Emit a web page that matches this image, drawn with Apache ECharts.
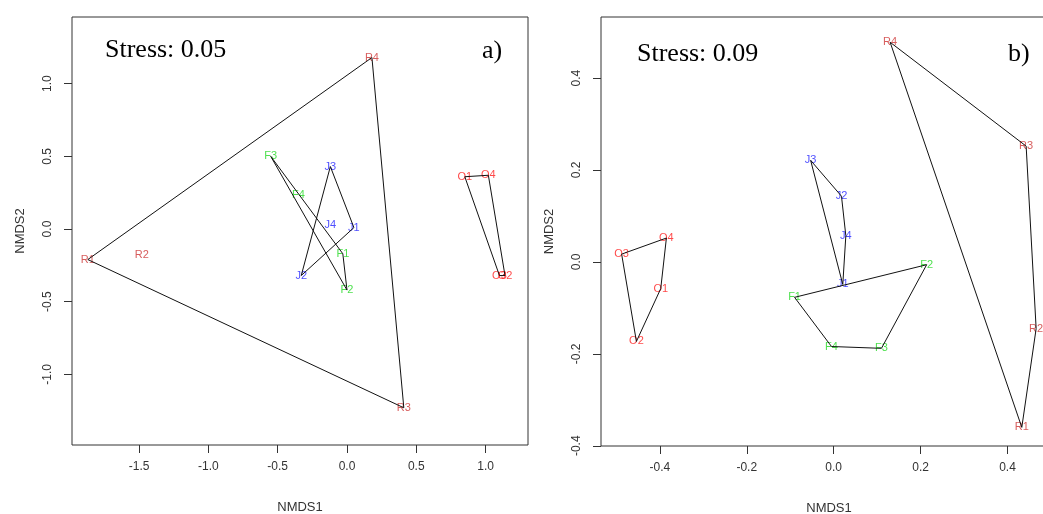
<!DOCTYPE html>
<html>
<head>
<meta charset="utf-8"/>
<style>
    html, body {
        margin: 0;
        height: 100%;
        background-color: #fff;
    }
    #main {
        width: 1043px;
        height: 514px;
    }
</style>
<script src="https://cdn.jsdelivr.net/npm/echarts@6.0.0/dist/echarts.min.js"></script>
</head>
<body>
<div id="main"></div>
<script type="text/javascript">
// panel a) site scores
var sitesA = ['F1', 'F2', 'F3', 'F4', 'J1', 'J2', 'J3', 'J4', 'O1', 'O2', 'O3', 'O4', 'R1', 'R2', 'R3', 'R4'];
var nmds1A = [-0.03, 0.00, -0.55, -0.35, 0.05, -0.33, -0.12, -0.12, 0.85, 1.14, 1.10, 1.02, -1.87, -1.48, 0.41, 0.18];
var nmds2A = [-0.17, -0.42, 0.50, 0.235, 0.01, -0.32, 0.43, 0.03, 0.36, -0.32, -0.32, 0.37, -0.21, -0.18, -1.23, 1.18];
var stressA = '0.05';

// panel b) site scores
var sitesB = ['F1', 'F2', 'F3', 'F4', 'J1', 'J2', 'J3', 'J4', 'O1', 'O2', 'O3', 'O4', 'R1', 'R2', 'R3', 'R4'];
var nmds1B = [-0.09, 0.214, 0.11, -0.005, 0.021, 0.018, -0.053, 0.028, -0.398, -0.454, -0.488, -0.385, 0.433, 0.466, 0.443, 0.13];
var nmds2B = [-0.077, -0.006, -0.188, -0.184, -0.049, 0.143, 0.221, 0.057, -0.058, -0.173, 0.017, 0.052, -0.36, -0.145, 0.252, 0.478];
var stressB = '0.09';

// tick labels
var ticksA1 = [-1.5, -1.0, -0.5, 0.0, 0.5, 1.0];
var ticksA2 = [-1.0, -0.5, 0.0, 0.5, 1.0];
var ticksB1 = [-0.4, -0.2, 0.0, 0.2, 0.4];
var ticksB2 = [-0.4, -0.2, 0.0, 0.2, 0.4];

var groups = ['F', 'J', 'O', 'R'];
var groupColors = {F: '#22d822', J: '#2222ff', O: '#ff1a1a', R: '#cd3333'};

var sans = '"Liberation Sans", Arial, sans-serif';
var serif = '"Liberation Serif", "Times New Roman", serif';

// convex hull (monotone chain), returned closed
function hull(pts) {
    var p = pts.slice().sort(function (a, b) { return a[0] - b[0] || a[1] - b[1]; });
    function cross(o, a, b) { return (a[0] - o[0]) * (b[1] - o[1]) - (a[1] - o[1]) * (b[0] - o[0]); }
    var lower = [], upper = [];
    for (var i = 0; i < p.length; i++) {
        while (lower.length >= 2 && cross(lower[lower.length - 2], lower[lower.length - 1], p[i]) <= 0) lower.pop();
        lower.push(p[i]);
    }
    for (var j = p.length - 1; j >= 0; j--) {
        while (upper.length >= 2 && cross(upper[upper.length - 2], upper[upper.length - 1], p[j]) <= 0) upper.pop();
        upper.push(p[j]);
    }
    upper.pop(); lower.pop();
    var h = lower.concat(upper);
    h.push(h[0]);
    return h;
}

function panelSeries(idx, sites, xs, ys) {
    var out = [];
    groups.forEach(function (g) {
        var pts = [];
        for (var i = 0; i < sites.length; i++) {
            if (sites[i].charAt(0) === g) pts.push([xs[i], ys[i], sites[i]]);
        }
        out.push({
            type: 'scatter', xAxisIndex: idx, yAxisIndex: idx, z: 2,
            data: pts, symbolSize: 1,
            itemStyle: {color: 'rgba(0,0,0,0)'},
            label: {
                show: true, position: 'inside',
                formatter: function (p) { return p.data[2]; },
                color: groupColors[g], fontSize: 11, fontFamily: sans
            }
        });
        out.push({
            type: 'line', xAxisIndex: idx, yAxisIndex: idx, z: 3,
            data: hull(pts), symbol: 'none', silent: true,
            lineStyle: {color: '#111', width: 1}
        });
    });
    return out;
}

function fmt(v) { return Number(v).toFixed(1); }

function xAxis(idx, min, max, ticks) {
    return {
        type: 'value', gridIndex: idx, min: min, max: max,
        name: 'NMDS1', nameLocation: 'middle', nameGap: 56,
        nameTextStyle: {fontSize: 13, color: '#333', fontFamily: sans},
        axisLine: {show: false, onZero: false},
        splitLine: {show: false},
        axisTick: {show: true, length: 8, customValues: ticks, lineStyle: {color: '#333'}},
        axisLabel: {customValues: ticks, formatter: fmt, fontSize: 12, color: '#333', fontFamily: sans, margin: 16}
    };
}

function yAxis(idx, min, max, ticks) {
    return {
        type: 'value', gridIndex: idx, min: min, max: max,
        name: 'NMDS2', nameLocation: 'middle', nameGap: 45, nameRotate: 90,
        nameTextStyle: {fontSize: 13, color: '#333', fontFamily: sans},
        axisLine: {show: false, onZero: false},
        splitLine: {show: false},
        axisTick: {show: true, length: 8, customValues: ticks, lineStyle: {color: '#333'}},
        axisLabel: {customValues: ticks, formatter: fmt, rotate: 90, fontSize: 12, color: '#333', fontFamily: sans, margin: 18}
    };
}

var myChart = echarts.init(document.getElementById('main'));
var options = {
    animation: false,
    backgroundColor: '#fff',
    grid: [
        {left: 72, top: 17, width: 456, height: 428, show: true, borderColor: '#333', borderWidth: 1, containLabel: false, outerBoundsMode: 'none'},
        {left: 601, top: 17, width: 456, height: 429, show: true, borderColor: '#333', borderWidth: 1, containLabel: false, outerBoundsMode: 'none'}
    ],
    xAxis: [
        xAxis(0, -1.984, 1.306, ticksA1),
        xAxis(1, -0.5355, 0.514, ticksB1)
    ],
    yAxis: [
        yAxis(0, -1.486, 1.459, ticksA2),
        yAxis(1, -0.4005, 0.533, ticksB2)
    ],
    graphic: [
        {type: 'text', x: 105, y: 50, style: {text: 'Stress: ' + stressA, font: '26px ' + serif, fill: '#000', textAlign: 'left', textVerticalAlign: 'middle'}},
        {type: 'text', x: 482, y: 51, style: {text: 'a)', font: '26px ' + serif, fill: '#000', textAlign: 'left', textVerticalAlign: 'middle'}},
        {type: 'text', x: 637, y: 54, style: {text: 'Stress: ' + stressB, font: '26px ' + serif, fill: '#000', textAlign: 'left', textVerticalAlign: 'middle'}},
        {type: 'text', x: 1008, y: 54, style: {text: 'b)', font: '26px ' + serif, fill: '#000', textAlign: 'left', textVerticalAlign: 'middle'}}
    ],
    series: panelSeries(0, sitesA, nmds1A, nmds2A).concat(panelSeries(1, sitesB, nmds1B, nmds2B))
};
myChart.setOption(options);
</script>
</body>
</html>
